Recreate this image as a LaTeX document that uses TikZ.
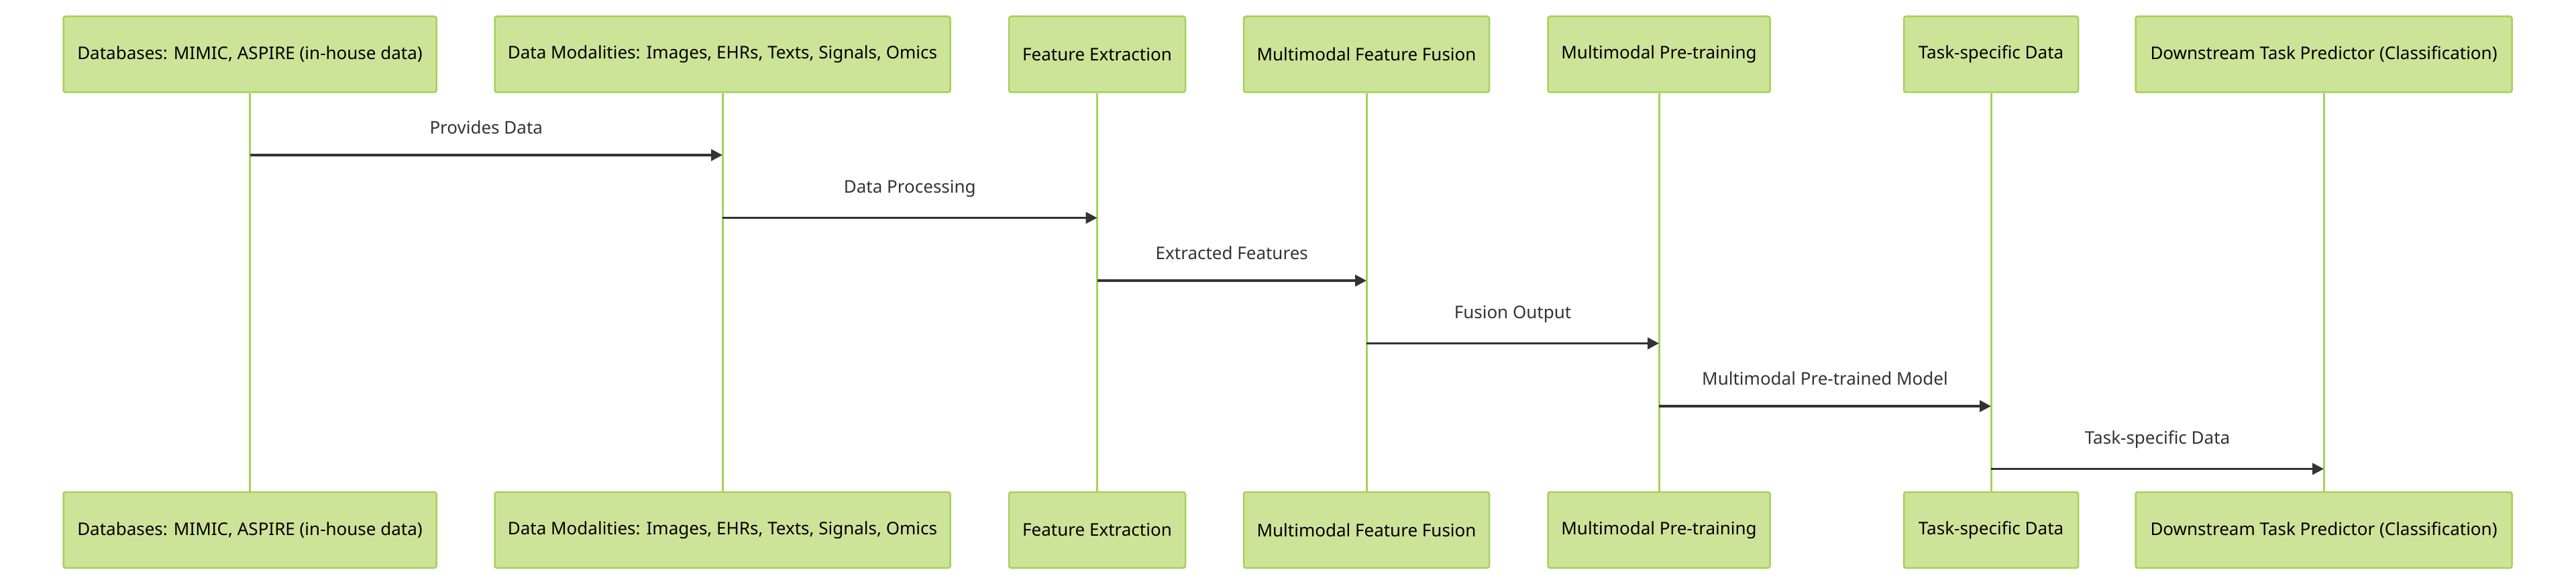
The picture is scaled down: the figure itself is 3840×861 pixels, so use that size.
\documentclass[tikz,border=0pt]{standalone}
\usepackage{fontspec}
\setmainfont{Noto Sans}
\usetikzlibrary{arrows.meta}
\definecolor{actorfill}{HTML}{CDE498}
\definecolor{actorline}{HTML}{A6D15A}
\definecolor{msgline}{HTML}{333333}

\begin{document}
\begin{tikzpicture}[x=1pt,y=-1pt,
  actor/.style={draw=actorline,line width=2.5pt,fill=actorfill,rounded corners=3pt,
    minimum height=113pt,inner sep=0pt,font=\fontsize{26}{31}\selectfont},
  life/.style={draw=actorline,line width=3pt},
  msg/.style={draw=msgline,line width=3.5pt,-{Triangle[length=17pt,width=17pt]}},
  lbl/.style={text=msgline,font=\fontsize{26}{31}\selectfont}]
  \useasboundingbox (0,0) rectangle (3840,861);
  % Top boxes
  \node[actor,minimum width=556pt] (dbT) at (372.5,81) {Databases: MIMIC, ASPIRE (in-house data)};
  \node[actor,minimum width=679pt] (modT) at (1077,81) {Data Modalities: Images, EHRs, Texts, Signals, Omics};
  \node[actor,minimum width=263pt] (featT) at (1635.5,81) {Feature Extraction};
  \node[actor,minimum width=366pt] (fusT) at (2037,81) {Multimodal Feature Fusion};
  \node[actor,minimum width=331pt] (preT) at (2473,81) {Multimodal Pre-training};
  \node[actor,minimum width=260pt] (taskT) at (2968,81) {Task-specific Data};
  \node[actor,minimum width=561pt] (predT) at (3464,81) {Downstream Task Predictor (Classification)};
  % Bottom boxes
  \node[actor,minimum width=556pt] (dbB) at (372.5,789.5) {Databases: MIMIC, ASPIRE (in-house data)};
  \node[actor,minimum width=679pt] (modB) at (1077,789.5) {Data Modalities: Images, EHRs, Texts, Signals, Omics};
  \node[actor,minimum width=263pt] (featB) at (1635.5,789.5) {Feature Extraction};
  \node[actor,minimum width=366pt] (fusB) at (2037,789.5) {Multimodal Feature Fusion};
  \node[actor,minimum width=331pt] (preB) at (2473,789.5) {Multimodal Pre-training};
  \node[actor,minimum width=260pt] (taskB) at (2968,789.5) {Task-specific Data};
  \node[actor,minimum width=561pt] (predB) at (3464,789.5) {Downstream Task Predictor (Classification)};
  % Lifelines
  \draw[life] (dbT) -- (dbB);
  \draw[life] (modT) -- (modB);
  \draw[life] (featT) -- (featB);
  \draw[life] (fusT) -- (fusB);
  \draw[life] (preT) -- (preB);
  \draw[life] (taskT) -- (taskB);
  \draw[life] (predT) -- (predB);
  % Messages
  \draw[msg] (dbT.south |- 0,231) -- (modT.south |- 0,231)
    node[lbl,midway,above=26pt] {Provides Data};
  \draw[msg] (modT.south |- 0,324.5) -- (featT.south |- 0,324.5)
    node[lbl,midway,above=26pt] {Data Processing};
  \draw[msg] (featT.south |- 0,418) -- (fusT.south |- 0,418)
    node[lbl,midway,above=26pt] {Extracted Features};
  \draw[msg] (fusT.south |- 0,511.5) -- (preT.south |- 0,511.5)
    node[lbl,midway,above=26pt] {Fusion Output};
  \draw[msg] (preT.south |- 0,605) -- (taskT.south |- 0,605)
    node[lbl,midway,above=26pt] {Multimodal Pre-trained Model};
  \draw[msg] (taskT.south |- 0,698.5) -- (predT.south |- 0,698.5)
    node[lbl,midway,above=26pt] {Task-specific Data};
\end{tikzpicture}
\end{document}
